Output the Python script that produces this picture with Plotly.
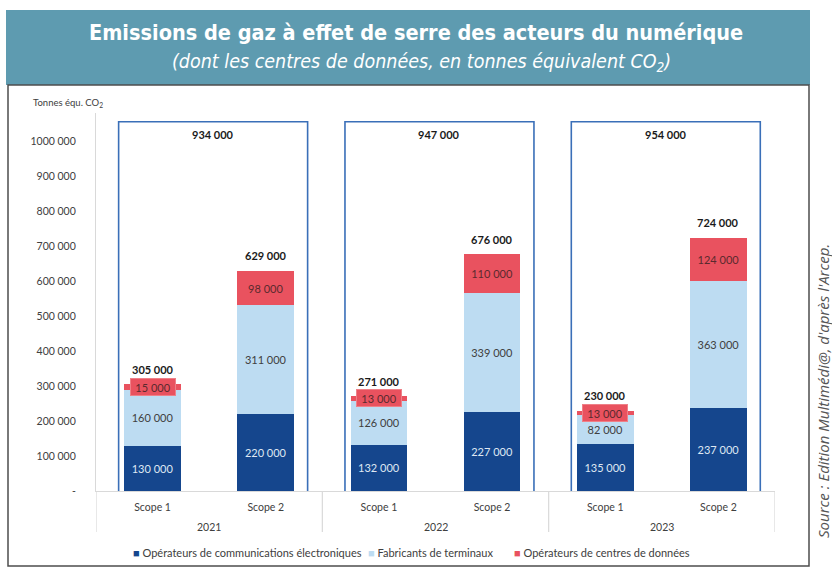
import plotly.graph_objects as go

# ---------------- data ----------------
years = ["2021", "2022", "2023"]
scopes = ["Scope 1", "Scope 2"]
series_names = ["Opérateurs de communications électroniques",
                "Fabricants de terminaux",
                "Opérateurs de centres de données"]
telecom = [130000, 220000, 132000, 227000, 135000, 237000]
devices = [160000, 311000, 126000, 339000, 82000, 363000]
datacenters = [15000, 98000, 13000, 110000, 13000, 124000]
scope_totals = [305000, 629000, 271000, 676000, 230000, 724000]
year_totals = [934000, 947000, 954000]
y_ticks = [0, 100000, 200000, 300000, 400000, 500000, 600000, 700000, 800000, 900000, 1000000]
y_ticklabels = ["-", "100 000", "200 000", "300 000", "400 000", "500 000",
                "600 000", "700 000", "800 000", "900 000", "1000 000"]

# ---------------- styling ----------------
W, H = 832, 573
L, R, T, B = 96, 775, 113, 491
PW, PH = R - L, B - T
DARK, LIGHT, RED = "#15468d", "#bddcf2", "#e9525f"
BOXC = "#3a6fb8"
TEAL = "#5e9bb0"
FONT = "Lato, Carlito, Open Sans, sans-serif"
NARROW = "Liberation Sans Narrow, DejaVu Sans Condensed, Roboto, sans-serif"
Y_MAX = 1080000
BOX_TOP = 1055000
YEAR_LABEL_Y = 1020000
SMALL = 50000


def px2x(p):
    return (p - L) / PW


def px2y(p):
    return (B - p) / PH


def fmt(v):
    return f"{v:,}".replace(",", " ")


def paper_ann(px, py, text, font, **kw):
    d = dict(x=px2x(px), y=px2y(py), xref="paper", yref="paper",
             xanchor="center", yanchor="middle", text=text,
             showarrow=False, font=font)
    d.update(kw)
    return d


pos = list(range(len(telecom)))
ticktext = [scopes[i % 2] for i in pos]

fig = go.Figure()
fig.add_bar(x=pos, y=telecom, name=series_names[0], width=0.5,
            marker=dict(color=DARK, line=dict(width=0)),
            text=[fmt(v) for v in telecom], textposition="inside",
            insidetextanchor="middle", textangle=0,
            textfont=dict(size=11, color="#dfe8f3", family=FONT),
            showlegend=False)
fig.add_bar(x=pos, y=devices, name=series_names[1], width=0.5,
            marker=dict(color=LIGHT, line=dict(width=0)),
            text=[fmt(v) for v in devices], textposition="inside",
            insidetextanchor="middle", textangle=0,
            textfont=dict(size=11, color="#404040", family=FONT),
            showlegend=False)
fig.add_bar(x=pos, y=datacenters, name=series_names[2], width=0.5,
            marker=dict(color=RED, line=dict(width=0)),
            text=[fmt(v) for v in datacenters],
            textposition=["inside" if v >= SMALL else "none" for v in datacenters],
            insidetextanchor="middle", textangle=0,
            textfont=dict(size=11, color="#5a2a2e", family=FONT),
            showlegend=False)

ann = []
shapes = []

# scope totals and small red badges
for i in pos:
    ann.append(dict(x=i, y=scope_totals[i], xref="x", yref="y", yshift=15,
                    xanchor="center", yanchor="middle",
                    text=f"<b>{fmt(scope_totals[i])}</b>", showarrow=False,
                    font=dict(size=11, color="#1a1a1a", family=FONT)))
    if datacenters[i] < SMALL:
        base = telecom[i] + devices[i]
        ann.append(dict(x=i, y=base + datacenters[i] / 2, xref="x", yref="y",
                        xanchor="center", yanchor="middle",
                        text=fmt(datacenters[i]), showarrow=False,
                        bgcolor=RED, bordercolor="#ee8088", borderwidth=1,
                        width=42, height=14,
                        font=dict(size=11, color="#5a2a2e", family=FONT)))

# year boxes
for k, yr in enumerate(years):
    x0 = 2 * k - 0.3
    x1 = 2 * k + 1 + 0.37
    shapes.append(dict(type="path", xref="x", yref="y",
                       path=f"M {x0},0 L {x0},{BOX_TOP} L {x1},{BOX_TOP} L {x1},0",
                       line=dict(color=BOXC, width=1.6), layer="above"))
    ann.append(dict(x=(x0 + x1) / 2, y=YEAR_LABEL_Y, xref="x", yref="y",
                    xanchor="center", yanchor="middle",
                    text=f"<b>{fmt(year_totals[k])}</b>", showarrow=False,
                    font=dict(size=11, color="#1a1a1a", family=FONT)))
    ann.append(dict(x=2 * k + 0.5, y=px2y(527), xref="x", yref="paper",
                    xanchor="center", yanchor="middle",
                    text=yr, showarrow=False,
                    font=dict(size=10.5, color="#404040", family=FONT)))

# group dividers
for xd in [-0.5, 1.5, 3.5, 5.5]:
    shapes.append(dict(type="line", xref="x", yref="paper", x0=xd, x1=xd,
                       y0=0, y1=px2y(532), line=dict(color="#d9d9d9", width=1.2)))

# header band and frame
shapes.append(dict(type="rect", xref="paper", yref="paper",
                   x0=px2x(6), x1=px2x(810), y0=px2y(85), y1=px2y(10),
                   fillcolor=TEAL, line=dict(width=0), layer="below"))
shapes.append(dict(type="rect", xref="paper", yref="paper",
                   x0=px2x(8), x1=px2x(809), y0=px2y(566), y1=px2y(85),
                   fillcolor="rgba(0,0,0,0)", line=dict(color="#4d4d4d", width=1.5),
                   layer="below"))

# titles
ann.append(paper_ann(416, 32,
                     "<b>Emissions de gaz à effet de serre des acteurs du numérique</b>",
                     dict(size=21.5, color="white", family=NARROW)))
ann.append(paper_ann(421, 63,
                     "<i>(dont les centres de données, en tonnes équivalent CO<sub>2</sub>)</i>",
                     dict(size=19.5, color="white", family=NARROW)))

# y-axis title
ann.append(paper_ann(68, 103, "Tonnes équ. CO<sub>2</sub>",
                     dict(size=9.5, color="#404040", family=FONT)))

# source
ann.append(paper_ann(823, 391, "<i>Source : Edition Multimédi@, d'après l'Arcep.</i>",
                     dict(size=15, color="#555555", family="Open Sans, sans-serif"),
                     textangle=-90))

# legend (manual)
leg_colors = [DARK, LIGHT, RED]
leg_x = [131, 366, 512]
for name, c, lx in zip(series_names, leg_colors, leg_x):
    ann.append(paper_ann(lx, 552, f"<span style='color:{c}'>■</span> {name}",
                         dict(size=11, color="#404040", family=FONT),
                         xanchor="left"))

fig.update_layout(
    width=W, height=H,
    margin=dict(l=L, r=W - R, t=T, b=H - B, pad=0),
    barmode="stack",
    paper_bgcolor="white", plot_bgcolor="white",
    separators=", ",
    showlegend=False,
    annotations=ann, shapes=shapes,
    xaxis=dict(range=[-0.5, 5.5], tickvals=pos, ticktext=ticktext,
               showline=True, linecolor="#d9d9d9", linewidth=1.2,
               showgrid=False, zeroline=False, ticks="",
               ticklabelstandoff=6,
               tickfont=dict(size=10.5, color="#404040", family=FONT),
               fixedrange=True),
    yaxis=dict(range=[0, Y_MAX], tickvals=y_ticks, ticktext=y_ticklabels,
               showline=True, linecolor="#d9d9d9", linewidth=1.2,
               showgrid=False, zeroline=False, ticks="",
               ticklabelstandoff=17,
               tickfont=dict(size=10.5, color="#404040", family=FONT),
               fixedrange=True),
)

fig.write_html("out.html", config={"displayModeBar": False},
               post_script="document.body.style.margin='0px';")
